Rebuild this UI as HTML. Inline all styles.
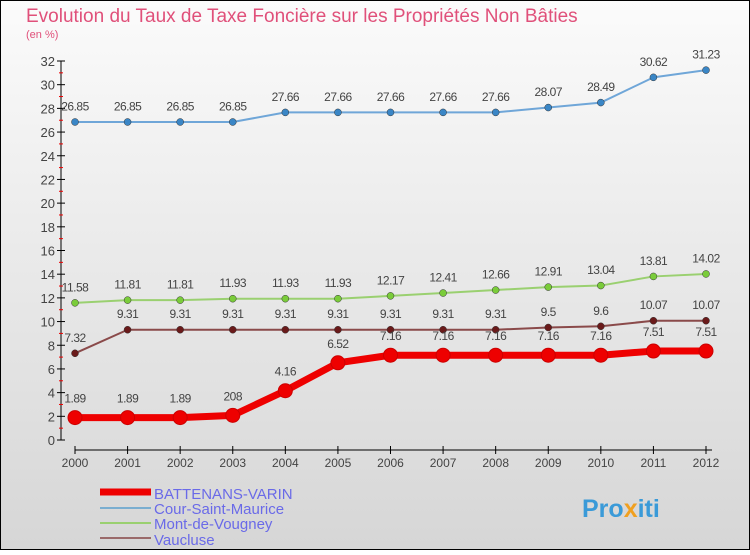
<!DOCTYPE html>
<html><head><meta charset="utf-8"><style>
body{margin:0;width:750px;height:550px;overflow:hidden;font-family:"Liberation Sans",sans-serif}
</style></head><body>
<svg id="c" width="750" height="550" xmlns="http://www.w3.org/2000/svg">
<defs><linearGradient id="bg" x1="0" y1="0" x2="0" y2="1"><stop offset="0" stop-color="#fbfbfb"/><stop offset="1" stop-color="#d6d6d6"/></linearGradient></defs>
<rect x="0.5" y="0.5" width="749" height="549" fill="url(#bg)" stroke="#000"/>
<text x="26" y="22" font-size="19" fill="#e0507a">Evolution du Taux de Taxe Foncière sur les Propriétés Non Bâties</text>
<text x="26" y="38" font-size="11" fill="#e0507a">(en %)</text>
<g id="axes"></g><g id="series"></g>
<g>
<line x1="100" y1="492" x2="151" y2="492" stroke="#ee0000" stroke-width="7"/>
<text x="154" y="499" font-size="15" fill="#6a6ae8">BATTENANS-VARIN</text>
<line x1="100" y1="508" x2="151" y2="508" stroke="#7aaed0" stroke-width="2"/>
<text x="154" y="514" font-size="15" fill="#6a6ae8">Cour-Saint-Maurice</text>
<line x1="100" y1="523" x2="151" y2="523" stroke="#9ad070" stroke-width="2"/>
<text x="154" y="529" font-size="15" fill="#6a6ae8">Mont-de-Vougney</text>
<line x1="100" y1="538" x2="151" y2="538" stroke="#9a6a6a" stroke-width="2"/>
<text x="154" y="545" font-size="15" fill="#6a6ae8">Vaucluse</text>
</g>
<text x="582" y="517" font-size="25" font-weight="bold" fill="#3a9ad8">Pro<tspan fill="#f0a020">x</tspan>iti</text>
</svg>
<script>
const years=[2000,2001,2002,2003,2004,2005,2006,2007,2008,2009,2010,2011,2012];
const yTicks=[0,2,4,6,8,10,12,14,16,18,20,22,24,26,28,30,32];
const battenans=[1.89,1.89,1.89,2.08,4.16,6.52,7.16,7.16,7.16,7.16,7.16,7.51,7.51];
const cour=[26.85,26.85,26.85,26.85,27.66,27.66,27.66,27.66,27.66,28.07,28.49,30.62,31.23];
const mont=[11.58,11.81,11.81,11.93,11.93,11.93,12.17,12.41,12.66,12.91,13.04,13.81,14.02];
const vaucluse=[7.32,9.31,9.31,9.31,9.31,9.31,9.31,9.31,9.31,9.5,9.6,10.07,10.07];
const NS="http://www.w3.org/2000/svg";
const X=i=>75+i*(706-75)/12, Y=v=>440-v*(379/32);
function mk(p,t,a){const e=document.createElementNS(NS,t);for(const k in a)e.setAttribute(k,a[k]);p.appendChild(e);return e;}
const ax=document.getElementById('axes'),sg=document.getElementById('series');
let l=mk(ax,'line',{x1:61,y1:61,x2:61,y2:440,stroke:'#000'});


l=mk(ax,'line',{x1:75,y1:450,x2:712,y2:450,stroke:'#000'});


yTicks.forEach(v=>{mk(ax,'line',{x1:57,x2:65,y1:Y(v),y2:Y(v),stroke:'#000'});
 if(v<32)mk(ax,'line',{x1:59,x2:63,y1:Y(v+1),y2:Y(v+1),stroke:'#e00'});
 const t=mk(ax,'text',{x:55,y:Y(v)+5,'font-size':13,'text-anchor':'end',fill:'#444'});t.textContent=v;
 
 });
years.forEach((y,i)=>{mk(ax,'line',{x1:X(i),x2:X(i),y1:446,y2:454,stroke:'#000'});
 const t=mk(ax,'text',{x:X(i),y:467,'font-size':12,'text-anchor':'middle',fill:'#444'});t.textContent=y;
 
 });
function series(d,col,w,r,fill,name,fmt){
 const g=mk(sg,'g',{});
 
 
 mk(g,'polyline',{points:d.map((v,i)=>X(i)+','+Y(v)).join(' '),fill:'none',stroke:col,'stroke-width':w,'stroke-linejoin':'round'});
 d.forEach((v,i)=>{const c=mk(g,'circle',{cx:X(i),cy:Y(v),r:r,fill:fill,stroke:col==='#ee0000'?'#c00':'#333','stroke-width':col==='#ee0000'?1:0.5});
  
  
  const t=mk(g,'text',{x:X(i),y:Y(v)-r-8,'font-size':12,'text-anchor':'middle',fill:'#444','letter-spacing':'-0.5'});
  t.textContent=fmt(v);
  
  });
}
const f=v=>String(v).replace('.','.' );
series(cour,'#6fa6d8',2,3.5,'#3a86c6','series-cour-saint-maurice',v=>v);
series(mont,'#9ad070',2,3.5,'#7acc3a','series-mont-de-vougney',v=>v);
series(vaucluse,'#8a4a4a',2,3.5,'#6a1a1a','series-vaucluse',v=>v);
series(battenans,'#ee0000',7,7,'#ee0000','series-battenans-varin',v=>v===2.08?'208':v);
</script>
</body></html>
